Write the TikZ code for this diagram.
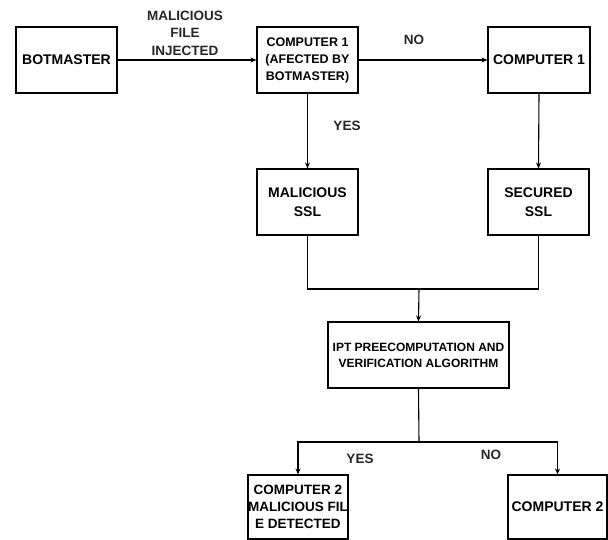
\documentclass[tikz,border=0pt]{standalone}
\usepackage{fontspec}
\setmainfont{Liberation Sans}
\usetikzlibrary{arrows.meta}
\tikzset{
  box/.style={draw, line width=1.1pt, align=center, inner sep=0pt,
    font=\fontsize{14}{19}\selectfont\bfseries},
  small/.style={font=\fontsize{12.5}{17}\selectfont\bfseries},
  lbl/.style={align=center, inner sep=0pt, font=\fontsize{13.5}{17.5}\selectfont\bfseries, text=black!85},
  conn/.style={line width=1.1pt},
  arr/.style={conn, -{Stealth[length=6pt,width=5pt]}}
}
\begin{document}
\begin{tikzpicture}[x=1pt,y=-1pt]
\useasboundingbox (0,0) rectangle (608,540);
\node[box, minimum width=101pt, minimum height=66pt] (bot) at (66.5,60) {BOTMASTER};
\node[box, small, minimum width=101pt, minimum height=66pt] (c1) at (307.5,60) {COMPUTER 1\\(AFECTED BY\\BOTMASTER)};
\node[box, minimum width=102pt, minimum height=66pt] (c1r) at (539,60) {COMPUTER 1};
\node[box, minimum width=101pt, minimum height=66pt] (mssl) at (307.5,202) {MALICIOUS\\SSL};
\node[box, minimum width=101pt, minimum height=66pt] (sssl) at (538.5,202) {SECURED\\SSL};
\node[box, font=\fontsize{12}{16}\selectfont\bfseries, minimum width=181pt, minimum height=66pt] (ipt) at (418.5,355) {IPT PREECOMPUTATION AND\\VERIFICATION ALGORITHM};
\node[box, font=\fontsize{13.5}{17}\selectfont\bfseries, minimum width=100pt, minimum height=64pt] (c2m) at (298,507) {COMPUTER 2\\MALICIOUS FIL\\E DETECTED};
\node[box, minimum width=99pt, minimum height=64pt] (c2) at (557.5,507) {COMPUTER 2};

\node[lbl] (l1) at (185,33) {MALICIOUS\\FILE\\INJECTED};
\node[lbl] (l2) at (414,40) {NO};
\node[lbl] (l3) at (347,126) {YES};
\node[lbl] (l4) at (360,459) {YES};
\node[lbl] (l5) at (491,455) {NO};

\coordinate (j) at (419,289);
\coordinate (k) at (419,442);

\draw[arr] (bot) -- (c1);
\draw[arr] (c1) -- (c1r);
\draw[arr] (c1) -- (mssl);
\draw[arr] (c1r.south) -- (sssl.north);
\draw[conn] (mssl.south) |- (j) -| (sssl.south);
\draw[arr] (j) -- (ipt.north);
\draw[conn] (ipt.south) -- (k);
\draw[arr] (k) -| (c2m.north);
\draw[arr] (k) -| (c2.north);
\end{tikzpicture}
\end{document}
